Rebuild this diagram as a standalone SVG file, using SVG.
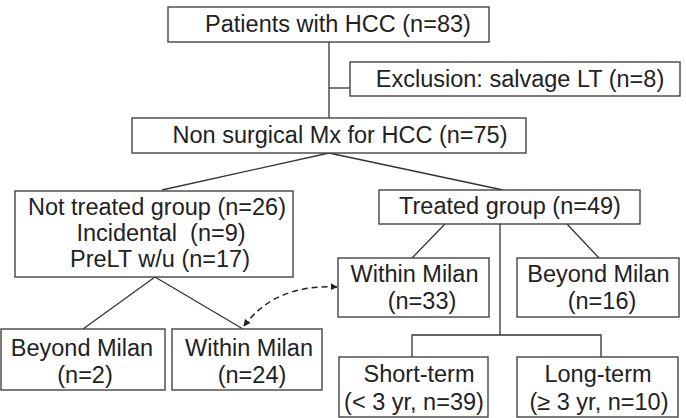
<svg xmlns="http://www.w3.org/2000/svg" width="686" height="418" viewBox="0 0 686 418">
<style>
.box{fill:#fff;stroke:#444;stroke-width:1.4}
.ln{fill:none;stroke:#333;stroke-width:1.3}
.dash{fill:none;stroke:#222;stroke-width:1.5;stroke-dasharray:6 4}
text{font-family:"Liberation Sans",Arial,sans-serif;font-size:23.5px;fill:#222;text-anchor:middle;white-space:pre}
</style>
<defs>
<marker id="ah" viewBox="0 0 10 10" refX="9" refY="5" markerWidth="7" markerHeight="7" orient="auto-start-reverse" markerUnits="userSpaceOnUse">
<path d="M0,0 L10,5 L0,10 z" fill="#222"/>
</marker>
</defs>
<rect width="686" height="418" fill="#fff"/>
<g id="connectors">
<path class="ln" d="M329,42 V118"/>
<path class="ln" d="M329,88 H350"/>
<path class="ln" d="M329,153 L162,190"/>
<path class="ln" d="M329,153 L503,190"/>
<path class="ln" d="M155,277 L83,329"/>
<path class="ln" d="M155,277 L243,329"/>
<path class="ln" d="M445,224 L412,258"/>
<path class="ln" d="M567,224 L599,258"/>
<path class="ln" d="M500,224 V335 M412,357 V335 H601 V357"/>
<path class="dash" d="M244,326 Q275,284 337,287" marker-start="url(#ah)" marker-end="url(#ah)"/>
</g>
<g id="n-patients">
<rect class="box" x="168" y="7" width="321" height="35"/>
<text x="338" y="32">Patients with HCC (n=83)</text>
</g>
<g id="n-exclusion">
<rect class="box" x="350" y="62" width="330" height="34"/>
<text x="520" y="87">Exclusion: salvage LT (n=8)</text>
</g>
<g id="n-nonsurgical">
<rect class="box" x="132" y="118" width="394" height="35"/>
<text x="340" y="143">Non surgical Mx for HCC (n=75)</text>
</g>
<g id="n-nottreated">
<rect class="box" x="15" y="191" width="278" height="86"/>
<text x="157" y="214.5">Not treated group (n=26)</text>
<text x="161" y="241">Incidental  (n=9)</text>
<text x="160" y="267">PreLT w/u (n=17)</text>
</g>
<g id="n-treated">
<rect class="box" x="379" y="190" width="261" height="34"/>
<text x="510" y="213.5">Treated group (n=49)</text>
</g>
<g id="n-within33">
<rect class="box" x="338" y="258" width="151" height="59"/>
<text x="414.5" y="281.5">Within Milan</text>
<text x="422" y="309">(n=33)</text>
</g>
<g id="n-beyond16">
<rect class="box" x="517" y="258" width="162" height="59"/>
<text x="598.5" y="281.5">Beyond Milan</text>
<text x="602" y="309">(n=16)</text>
</g>
<g id="n-beyond2">
<rect class="box" x="1" y="329" width="164" height="61"/>
<text x="82" y="355.5">Beyond Milan</text>
<text x="85" y="382.5">(n=2)</text>
</g>
<g id="n-within24">
<rect class="box" x="172" y="329" width="150" height="61"/>
<text x="249" y="355.5">Within Milan</text>
<text x="252" y="382.5">(n=24)</text>
</g>
<g id="n-short">
<rect class="box" x="339" y="357" width="149" height="60"/>
<text x="419" y="381.5">Short-term</text>
<text x="414" y="409.5">(&lt; 3 yr, n=39)</text>
</g>
<g id="n-long">
<rect class="box" x="517" y="357" width="161" height="60"/>
<text x="598" y="381.5">Long-term</text>
<text x="599" y="409.5">(≥ 3 yr, n=10)</text>
</g>
</svg>
